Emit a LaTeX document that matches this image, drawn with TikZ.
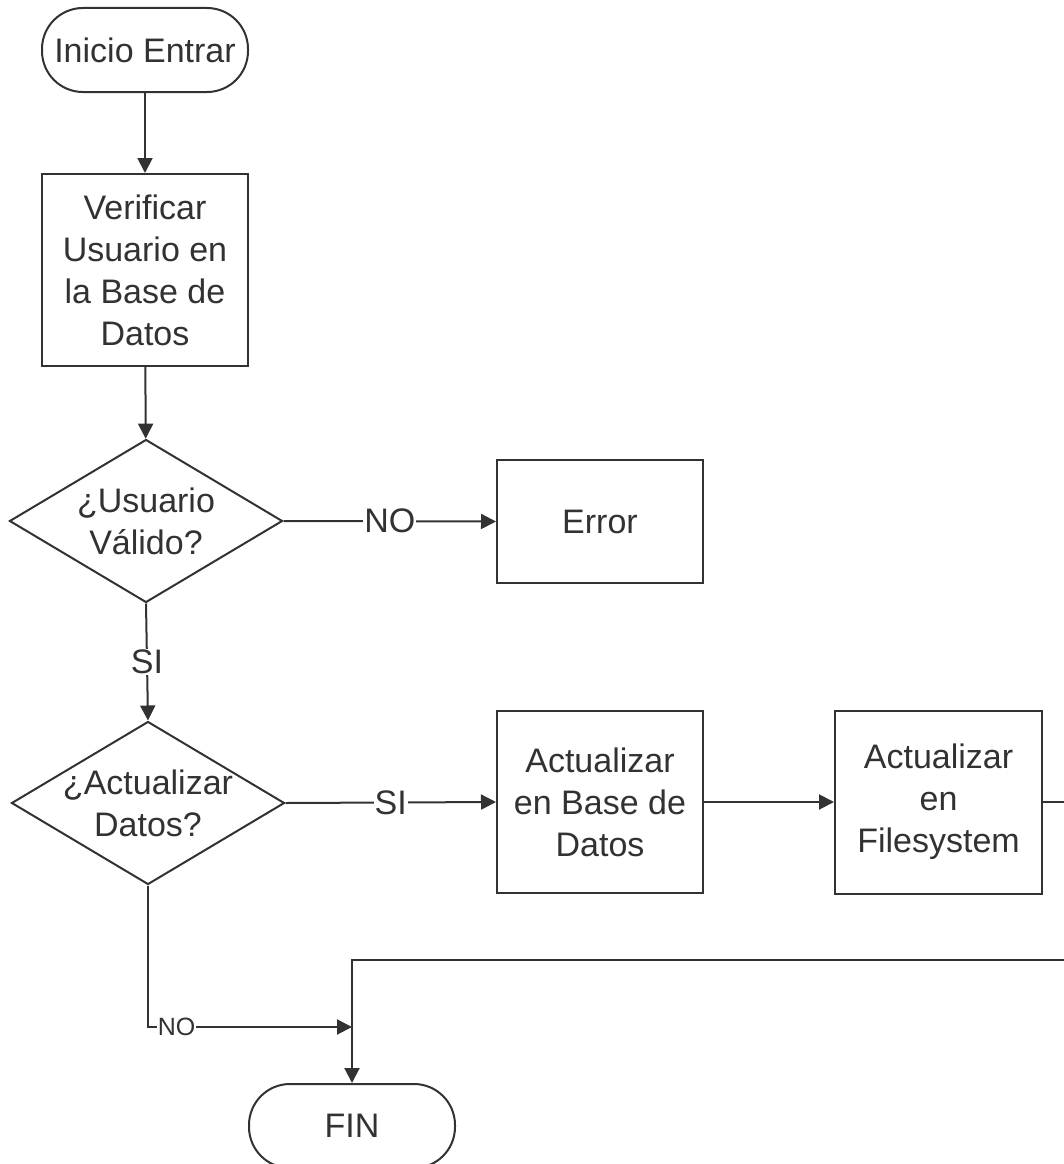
\documentclass[tikz,border=0pt]{standalone}
\usepackage{fontspec}
\setmainfont{Liberation Sans}
\usetikzlibrary{arrows.meta,shapes.geometric}
\definecolor{ink}{RGB}{50,50,50}
\begin{document}
\begin{tikzpicture}[x=1pt,y=-1pt,
  line width=2pt, draw=ink, text=ink,
  every node/.style={font=\fontsize{34}{42}\selectfont},
  terminal/.style={draw, rectangle, rounded corners=41pt, minimum width=206pt,
    minimum height=84pt, inner sep=0pt, align=center},
  process/.style={draw, rectangle, minimum width=206pt, inner sep=0pt, align=center},
  decision/.style={draw, diamond, minimum width=273pt, minimum height=163pt, inner sep=0pt},
  dtext/.style={align=center, inner sep=0pt},
  flow/.style={-{Triangle[length=15pt,width=15pt]}, draw=ink},
  elabel/.style={fill=white, inner sep=1pt},
  smalllabel/.style={fill=white, inner sep=1pt, font=\fontsize{25}{28}\selectfont}
]
\useasboundingbox (0,0) rectangle (1063,1164);

% nodes
\node[terminal] (start) at (145,50) {Inicio Entrar};
\node[process, minimum height=192pt] (verify) at (145,270)
  {Verificar\\Usuario en\\la Base de\\Datos};
\node[decision, label={[dtext]center:¿Usuario\\Válido?}] (valid) at (146,521) {};
\node[process, minimum height=123pt] (error) at (600,521.5) {Error};
\node[decision, label={[dtext]center:¿Actualizar\\Datos?}] (update) at (148,803) {};
\node[process, minimum height=182pt] (updb) at (600,802) {Actualizar\\en Base de\\Datos};
\node[process, minimum width=207pt, minimum height=183pt] (upfs) at (938.5,802)
  {Actualizar\\en\\Filesystem};
\node[terminal] (fin) at (352,1126) {FIN};

% junction points
\coordinate (merge) at (352,1027);
\coordinate (turn) at (1090,960);

% connectors
\draw[flow] (start) -- (verify);
\draw[flow] (verify) -- (valid);
\draw[flow] (valid.east) -- node[elabel] {NO} (error.west);
\draw[flow] (valid.south) -- node[elabel] {SI} (update.north);
\draw[flow] (update.east) -- node[elabel] {SI} (updb.west);
\draw[flow] (updb.east) -- (upfs.west);
\draw[flow] (update.south) |- node[smalllabel, pos=0.57] {NO} (merge);
\draw[flow] (upfs.east) -| (turn) -| (fin.north);
\end{tikzpicture}
\end{document}
